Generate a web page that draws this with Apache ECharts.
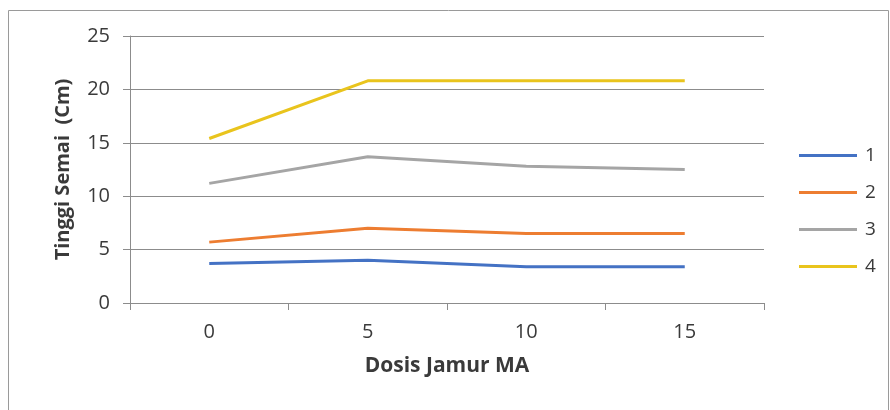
<!DOCTYPE html>
<html>
<head>
<meta charset="utf-8">
<script src="https://cdn.jsdelivr.net/npm/echarts@6/dist/echarts.min.js"></script>
<style>
  html, body { margin: 0; padding: 0; background: #fff; }
  #chart { width: 890px; height: 410px; }
</style>
</head>
<body>
<div id="chart"></div>
<script>
// Dose of MA fungus (x categories)
const doses = ['0', '5', '10', '15'];
// Seedling height (cm) for each series
const seriesNames = ['1', '2', '3', '4'];
const s1 = [3.7, 4.0, 3.4, 3.4];
const s2 = [5.7, 7.0, 6.5, 6.5];
const s3 = [11.2, 13.7, 12.8, 12.5];
const s4 = [15.4, 20.8, 20.8, 20.8];
const yTicks = [0, 5, 10, 15, 20, 25];

const colors = ['#4472C4', '#ED7D31', '#A5A5A5', '#E9C41D'];
const values = [s1, s2, s3, s4];
const font = '"Open Sans", "Noto Sans", sans-serif';
const textColor = '#3a3a3a';

const chart = echarts.init(document.getElementById('chart'));
chart.setOption({
  animation: false,
  backgroundColor: '#fff',
  graphic: [{
    type: 'rect',
    shape: { x: 8.5, y: 10.5, width: 880, height: 420 },
    style: { fill: 'none', stroke: '#9a9a9a', lineWidth: 1 }
  }],
  grid: { left: 130, right: 126, top: 36, bottom: 107 },
  legend: {
    orient: 'vertical',
    left: 794,
    top: 141,
    icon: 'rect',
    itemWidth: 58,
    itemHeight: 3,
    itemGap: 18,
    textStyle: { fontFamily: font, fontSize: 19, color: textColor, padding: [0, 0, 0, 3] },
    data: seriesNames
  },
  xAxis: {
    type: 'category',
    data: doses,
    boundaryGap: true,
    name: 'Dosis Jamur MA',
    nameLocation: 'middle',
    nameGap: 53,
    nameTextStyle: { fontFamily: font, fontSize: 21, fontWeight: 'bold', color: textColor },
    axisLine: { lineStyle: { color: '#8c8c8c', width: 1 } },
    axisTick: { show: true, length: 7, lineStyle: { color: '#8c8c8c' } },
    axisLabel: { fontFamily: font, fontSize: 20, color: textColor, margin: 19 },
    splitLine: { show: false }
  },
  yAxis: {
    type: 'value',
    min: yTicks[0],
    max: yTicks[yTicks.length - 1],
    interval: 5,
    name: 'Tinggi Semai  (Cm)',
    nameLocation: 'middle',
    nameGap: 57,
    nameTextStyle: { fontFamily: font, fontSize: 20, fontWeight: 'bold', color: textColor },
    axisLine: { show: true, lineStyle: { color: '#8c8c8c', width: 1 } },
    axisTick: { show: true, length: 7, lineStyle: { color: '#8c8c8c' } },
    axisLabel: { fontFamily: font, fontSize: 20, color: textColor, margin: 20 },
    splitLine: { show: true, lineStyle: { color: '#8c8c8c', width: 1 } }
  },
  series: seriesNames.map((n, i) => ({
    name: n,
    type: 'line',
    data: values[i],
    symbol: 'none',
    color: colors[i],
    lineStyle: { width: 3, color: colors[i] }
  }))
});
</script>
</body>
</html>
